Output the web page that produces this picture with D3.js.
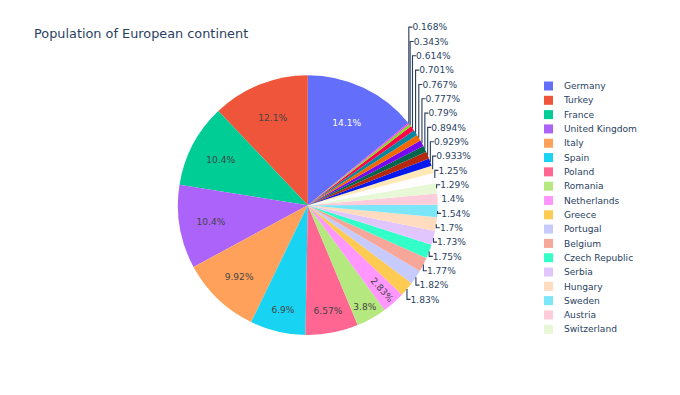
<!DOCTYPE html>
<html><head><meta charset="utf-8">
<script src="https://cdn.jsdelivr.net/npm/d3@7"></script>
<style>html,body{margin:0;padding:0;background:#fff;} svg{display:block;font-family:"DejaVu Sans",Verdana,sans-serif;}</style>
</head><body><svg id="chart" width="680" height="395"></svg>
<script>
// ---- data (percent of total) ----
const countries = ["Germany","Turkey","France","United Kingdom","Italy","Spain","Poland","Romania","Netherlands","Greece",
  "Portugal","Belgium","Czech Republic","Serbia","Hungary","Sweden","Austria","Switzerland","Bulgaria","Denmark",
  "Finland","Slovakia","Norway","Ireland","Croatia","Bosnia and Herzegovina","Lithuania","Latvia","Estonia"];
const shares = [14.1,12.1,10.4,10.4,9.92,6.9,6.57,3.8,2.83,1.83,
  1.82,1.77,1.75,1.73,1.7,1.54,1.4,1.29,1.25,0.933,
  0.929,0.894,0.79,0.777,0.767,0.701,0.614,0.343,0.168];
const baseColors = ["#636efa","#EF553B","#00cc96","#ab63fa","#FFA15A","#19d3f3","#FF6692","#B6E880","#FF97FF","#FECB52"];
const titleText = "Population of European continent";

// ---- layout ----
const W = 680, H = 395;
const cx = 307.8, cy = 205.2, R = 129.9;
const FS = 9.1, TH = 14.33, PAD = 2.27, TOL = 0.9;
const TEXT = "#2a3f5f";

const shift = (c, d) => { const h = d3.hsl(c); h.l = Math.max(0, Math.min(1, h.l + d)); return h.formatHex(); };
const palette = baseColors.concat(baseColors.map(c => shift(c, 0.2)), baseColors.map(c => shift(c, -0.2)));
const color = d3.scaleOrdinal().domain(countries).range(palette);

const data = countries.map((c, i) => ({name: c, v: shares[i]}));
const total = d3.sum(shares);
const firstAngle = 2 * Math.PI * shares[0] / total;
const pie = d3.pie().sort(null).value(d => d.v).startAngle(firstAngle).endAngle(firstAngle - 2 * Math.PI);
const arcs = pie(data);
const arc = d3.arc().innerRadius(0).outerRadius(R);

const fmtPct = v => { let s = (v * 100).toPrecision(3); if (s.indexOf('.') !== -1) s = s.replace(/[.]?0+$/, ''); return s + '%'; };
const isLight = c => { const r = d3.rgb(c); return (r.r * 299 + r.g * 587 + r.b * 114) / 1000 >= 128; };

const svg = d3.select("#chart");
svg.append("rect").attr("width", W).attr("height", H).attr("fill", "#fff");

// title
svg.append("text").attr("x", 34).attr("y", 37.6).attr("fill", TEXT)
  .style("font-size", "12.85px").text(titleText);

// slices
const gPie = svg.append("g").attr("transform", `translate(${cx},${cy})`);
gPie.selectAll("path").data(arcs).join("path")
  .attr("d", arc).attr("fill", d => color(d.data.name));

// measuring helper
const meas = svg.append("text").style("font-size", FS + "px").attr("visibility", "hidden");
const textW = s => { meas.text(s); return meas.node().getComputedTextLength(); };

function maxHalf(a, half, r) {
  const q = a + 1 / (2 * Math.tan(half));
  return r * Math.min(1 / (Math.sqrt(q * q + 0.5) + q), 1 / (Math.sqrt(a * a + 0.5) + a));
}
const calcRotate = t => (180 / Math.PI * t + 720) % 180 - 90;

const pts = arcs.map(d => {
  const mid = (d.startAngle + d.endAngle) / 2;
  const half = Math.abs(d.endAngle - d.startAngle) / 2;
  const label = fmtPct(d.value / total);
  const w = textW(label), h = TH;
  const p = {d, mid, half, label, w, h, px: R * Math.sin(mid), py: -R * Math.cos(mid), col: color(d.data.name)};
  const rIns = Math.min(1 / (1 + 1 / Math.sin(half)), 0.5);
  const horiz = {scale: rIns * R * 2 / Math.hypot(w, h), rCenter: 1 - rIns, rotate: 0};
  let best = horiz;
  if (horiz.scale < TOL) {
    const rr = Math.max(0, R - 2 * PAD);
    let a = w / h, s = maxHalf(a, half, rr);
    const rad = {scale: s * 2 / h, rCenter: Math.cos(s / rr) - a * s / rr, rotate: calcRotate(mid)};
    a = h / w; s = maxHalf(a, half, rr);
    const tan = {scale: s * 2 / w, rCenter: Math.cos(s / rr) - a * s / rr, rotate: calcRotate(mid + Math.PI / 2)};
    [rad, tan].forEach(t => { if (t.scale > best.scale) best = t; });
  }
  if (best.scale >= TOL) {
    p.inside = best;
  } else {
    const dy = (p.py < 0 ? -1 : 1) * h / 2;
    const ty = dy / (1 + p.px * p.px / (p.py * p.py));
    p.yMid = cy + p.py + ty;
    p.yMin = p.yMid - h / 2; p.yMax = p.yMid + h / 2;
    p.extraY = 0;
  }
  return p;
});
meas.remove();

// scoot outside labels (per quadrant, away from the equator)
const quads = [[[], []], [[], []]];
pts.forEach(p => quads[p.py < 0 ? 0 : 1][p.px < 0 ? 0 : 1].push(p));
for (let yHalf = 0; yHalf < 2; yHalf++) {
  for (let xHalf = 0; xHalf < 2; xHalf++) {
    const q = quads[yHalf][xHalf];
    q.sort(yHalf ? (a, b) => a.py - b.py : (a, b) => b.py - a.py);
    const outs = q.filter(p => p.yMid !== undefined);
    let firstOpp = null;
    if (yHalf) firstOpp = quads[0][xHalf].find(p => p.yMid !== undefined) || null;
    outs.forEach((p, i) => {
      let prev = i ? outs[i - 1] : firstOpp;
      if (!prev) return;
      const prevOuter = prev.extraY + (yHalf ? prev.yMax : prev.yMin);
      const inner = yHalf ? p.yMin : p.yMax;
      const ne = prevOuter - inner;
      if (ne * (yHalf ? 1 : -1) > 0) p.extraY = ne;
    });
  }
}

// inside labels
const gIn = svg.append("g");
pts.filter(p => p.inside).forEach(p => {
  const t = p.inside;
  const x = cx + R * Math.sin(p.mid) * t.rCenter;
  const y = cy - R * Math.cos(p.mid) * t.rCenter;
  gIn.append("text")
    .attr("transform", `translate(${x},${y}) rotate(${t.rotate})`)
    .attr("text-anchor", "middle").attr("dy", "0.37em")
    .attr("fill", isLight(p.col) ? "#444" : "#fff")
    .style("font-size", FS + "px").text(p.label);
});

// outside labels + connectors
const gOut = svg.append("g");
pts.filter(p => !p.inside).forEach(p => {
  const sgn = p.px < 0 ? -1 : 1;
  const x0 = cx + p.px, y0 = cy + p.py;
  const yl = p.yMid + p.extraY;
  if (p.extraY) {
    gOut.append("path")
      .attr("d", `M${x0},${y0}V${yl}h${sgn * p.h / 4}`)
      .attr("fill", "none").attr("stroke", TEXT).attr("stroke-width", 1.13);
  }
  gOut.append("text")
    .attr("x", x0 + sgn * (p.w / 2 + p.h / 4)).attr("y", yl)
    .attr("text-anchor", "middle").attr("dy", "0.37em")
    .attr("fill", TEXT).style("font-size", FS + "px").text(p.label);
});

// legend: only the rows that fit in the visible (scrolled) legend area
const legX = 533.4, legTop = 75.6, legRow = 14.31, legH = 261.5;
const nVisible = Math.floor(legH / legRow);
const gLeg = svg.append("g");
const items = gLeg.selectAll("g").data(countries.slice(0, nVisible)).join("g")
  .attr("transform", (d, i) => `translate(${legX},${legTop + 10.4 + i * legRow})`);
items.append("rect").attr("x", 15.1 - 4.5).attr("y", -4.5).attr("width", 9).attr("height", 9)
  .attr("fill", d => color(d));
items.append("text").attr("x", 30.5).attr("dy", "0.35em").attr("fill", TEXT)
  .style("font-size", FS + "px").text(d => d);
</script></body></html>
